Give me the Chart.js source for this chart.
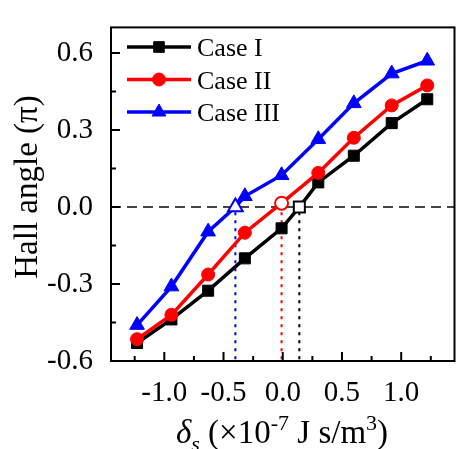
<!DOCTYPE html>
<html>
<head>
<meta charset="utf-8">
<script src="https://cdn.jsdelivr.net/npm/chart.js@4.4.1/dist/chart.umd.min.js"></script>
<style>
  html, body { margin: 0; padding: 0; background: #fff; overflow: hidden; }
  #wrap { width: 457px; height: 449px; overflow: hidden; }
</style>
</head>
<body>
<div id="wrap"><canvas id="hallChart" width="464" height="449"></canvas></div>
<script>
// data
const caseIx = [-1.23, -0.94, -0.63, -0.32, -0.01, 0.14, 0.30, 0.60, 0.92, 1.22];
const caseIy = [-0.53, -0.438, -0.326, -0.20, -0.083, 0, 0.096, 0.20, 0.327, 0.42];
const caseIIx = [-1.23, -0.94, -0.63, -0.32, -0.01, 0.30, 0.60, 0.92, 1.22];
const caseIIy = [-0.515, -0.42, -0.263, -0.10, 0.015, 0.133, 0.27, 0.396, 0.474];
const caseIIIx = [-1.23, -0.94, -0.63, -0.40, -0.32, -0.01, 0.30, 0.60, 0.92, 1.22];
const caseIIIy = [-0.46, -0.31, -0.096, 0, 0.042, 0.124, 0.264, 0.404, 0.52, 0.57];
const hollowI = 5, hollowII = 4, hollowIII = 3;
const zeroX = [0.14, -0.01, -0.40];
const yMajor = [-0.6, -0.3, 0, 0.3, 0.6];
const yMinor = [-0.45, -0.15, 0.15, 0.45];
const xMajor = [-1.0, -0.5, 0, 0.5, 1.0];
const xMinor = [-1.25, -0.75, -0.25, 0.25, 0.75, 1.25];

const SERIF = '"Liberation Serif", "Times New Roman", serif';

function pts(xs, ys) {
    return xs.map((x, i) => ({x: x, y: ys[i]}));
}
function fills(n, hollow, color) {
    const a = [];
    for (let i = 0; i < n; i++) a.push(i === hollow ? '#ffffff' : color);
    return a;
}
function widths(n, hollow) {
    const a = [];
    for (let i = 0; i < n; i++) a.push(i === hollow ? 2 : 1);
    return a;
}
function series(label, xs, ys, color, style, radius, hollow) {
    return {
        label: label,
        data: pts(xs, ys),
        showLine: true,
        borderColor: color,
        borderWidth: 3.5,
        pointStyle: style,
        pointRadius: radius,
        pointBackgroundColor: fills(xs.length, hollow, color),
        pointBorderColor: color,
        pointBorderWidth: widths(xs.length, hollow)
    };
}
function dropLine(x, color) {
    return {
        label: '',
        data: [{x: x, y: -0.02}, {x: x, y: -0.6}],
        showLine: true,
        borderColor: color,
        borderWidth: 2,
        borderDash: [3, 5],
        pointRadius: 0
    };
}

const legendRows = [
    {text: 'Case I', color: '#000000', style: 'rect', radius: 7.5},
    {text: 'Case II', color: '#ff0000', style: 'circle', radius: 6.5},
    {text: 'Case III', color: '#0000ff', style: 'triangle', radius: 8}
];

const extras = {
    id: 'extras',
    afterDraw(chart) {
        const ctx = chart.ctx;
        const a = chart.chartArea;
        const xs = chart.scales.x, ys = chart.scales.y;
        ctx.save();
        ctx.strokeStyle = '#000';
        ctx.lineWidth = 2;
        ctx.strokeRect(a.left, a.top, a.right - a.left, a.bottom - a.top);
        ctx.beginPath();
        yMajor.forEach(v => { const p = ys.getPixelForValue(v); ctx.moveTo(a.left, p); ctx.lineTo(a.left + 9, p); });
        yMinor.forEach(v => { const p = ys.getPixelForValue(v); ctx.moveTo(a.left, p); ctx.lineTo(a.left + 5, p); });
        xMajor.forEach(v => { const p = xs.getPixelForValue(v); ctx.moveTo(p, a.bottom); ctx.lineTo(p, a.bottom - 9); });
        xMinor.forEach(v => { const p = xs.getPixelForValue(v); ctx.moveTo(p, a.bottom); ctx.lineTo(p, a.bottom - 5); });
        ctx.stroke();

        // legend
        legendRows.forEach((r, i) => {
            const cy = 47 + i * 32.5;
            ctx.strokeStyle = r.color;
            ctx.lineWidth = 3.5;
            ctx.beginPath();
            ctx.moveTo(127, cy);
            ctx.lineTo(191, cy);
            ctx.stroke();
            ctx.fillStyle = r.color;
            ctx.lineWidth = 1;
            Chart.helpers.drawPoint(ctx, {pointStyle: r.style, radius: r.radius, rotation: 0, borderWidth: 1}, 159, cy);
            ctx.fillStyle = '#000';
            ctx.font = '26px ' + SERIF;
            ctx.textBaseline = 'alphabetic';
            ctx.textAlign = 'left';
            ctx.fillText(r.text, 197, cy + 9);
        });

        // y title
        ctx.save();
        ctx.translate(37, 187);
        ctx.rotate(-Math.PI / 2);
        ctx.font = '33px ' + SERIF;
        ctx.textAlign = 'center';
        ctx.textBaseline = 'alphabetic';
        ctx.fillStyle = '#000';
        ctx.fillText('Hall angle (π)', 0, 0);
        ctx.restore();

        // x title with sub/superscripts
        const parts = [
            {t: 'δ', f: 'italic 33px ', dy: 0},
            {t: 's', f: 'italic 22px ', dy: 8},
            {t: ' (×10', f: '33px ', dy: 0},
            {t: '-7', f: '22px ', dy: -13},
            {t: ' J s/m', f: '33px ', dy: 0},
            {t: '3', f: '22px ', dy: -13},
            {t: ')', f: '33px ', dy: 0}
        ];
        let total = 0;
        parts.forEach(p => { ctx.font = p.f + SERIF; p.w = ctx.measureText(p.t).width; total += p.w; });
        let x = 282 - total / 2;
        ctx.textAlign = 'left';
        ctx.textBaseline = 'alphabetic';
        ctx.fillStyle = '#000';
        parts.forEach(p => { ctx.font = p.f + SERIF; ctx.fillText(p.t, x, 443 + p.dy); x += p.w; });
        ctx.restore();
    }
};

const ctx = document.getElementById('hallChart').getContext('2d');
const hallChart = new Chart(ctx, {
    type: 'scatter',
    data: {
        datasets: [
            series('Case III', caseIIIx, caseIIIy, '#0000ff', 'triangle', 8.5, hollowIII),
            series('Case II', caseIIx, caseIIy, '#ff0000', 'circle', 6.5, hollowII),
            series('Case I', caseIx, caseIy, '#000000', 'rect', 7.8, hollowI),
            dropLine(zeroX[0], '#000000'),
            dropLine(zeroX[1], '#ff0000'),
            dropLine(zeroX[2], '#0000ff'),
            {
                label: '',
                data: [{x: -1.45, y: 0}, {x: 1.45, y: 0}],
                showLine: true,
                borderColor: '#444444',
                borderWidth: 2,
                borderDash: [10, 6],
                pointRadius: 0
            }
        ]
    },
    options: {
        responsive: false,
        devicePixelRatio: 1,
        animation: false,
        layout: {padding: {top: 13, right: 3, left: 0, bottom: 0}},
        plugins: {
            legend: {display: false},
            tooltip: {enabled: false}
        },
        scales: {
            x: {
                type: 'linear',
                min: -1.45,
                max: 1.45,
                grid: {display: false},
                border: {display: false},
                afterFit: (s) => { s.height = 88; },
                afterBuildTicks: (s) => { s.ticks = xMajor.map(v => ({value: v})); },
                ticks: {
                    autoSkip: false,
                    maxRotation: 0,
                    padding: 7,
                    color: '#000',
                    font: {family: SERIF, size: 29},
                    callback: (v) => (Math.round(v * 10) / 10).toFixed(1)
                }
            },
            y: {
                type: 'linear',
                min: -0.6,
                max: 0.7,
                grid: {display: false},
                border: {display: false},
                afterFit: (s) => { s.width = 111; },
                afterBuildTicks: (s) => { s.ticks = yMajor.map(v => ({value: v})); },
                ticks: {
                    autoSkip: false,
                    padding: 10,
                    color: '#000',
                    font: {family: SERIF, size: 29},
                    callback: (v) => (Math.round(v * 10) / 10).toFixed(1)
                }
            }
        }
    },
    plugins: [extras]
});
</script>
</body>
</html>
